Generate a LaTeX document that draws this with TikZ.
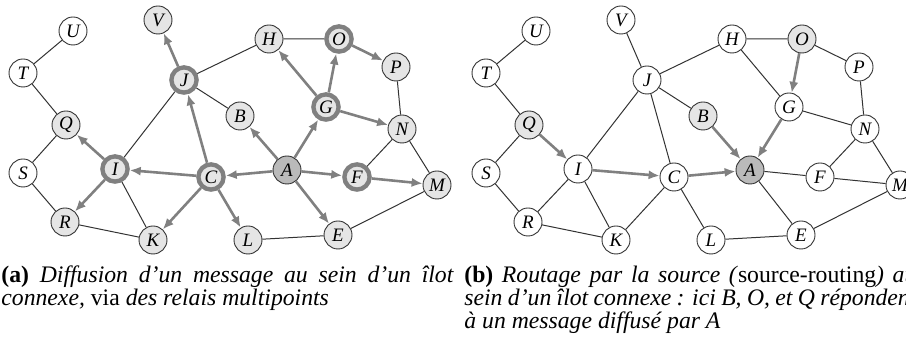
\documentclass[tikz,border=0pt]{standalone}
\usepackage{fontspec}
\setmainfont{Liberation Serif}
\usepackage{tikz}
\usetikzlibrary{arrows.meta}
\tikzstyle{station} = [circle, draw=black!80, line width=0.45pt, fill=white, minimum size=14pt, inner sep=0pt, font=\itshape\fontsize{9.5}{9.5}\selectfont]
\tikzstyle{reached} = [station, fill=black!10]
\tikzstyle{source} = [station, fill=black!27]
\tikzstyle{relay} = [reached, draw=black!50, line width=2.2pt, minimum size=12.6pt]
\tikzstyle{link} = [draw=black!80, line width=0.5pt]
\tikzstyle{flow} = [draw=black!50, line width=1.3pt, -{Latex[length=5.5pt,width=4.6pt]}]
\tikzstyle{captionbox} = [text width=226pt, align=justify, inner sep=0pt, anchor=base west, font=\fontsize{11.85}{11.3}\selectfont]

\begin{document}
\begin{tikzpicture}[x=0.5pt, y=-0.5pt]
        \useasboundingbox (0,0) rectangle (906,351);
        % (a) broadcast through the multipoint relays
        \begin{scope}[name prefix=a-]
            \node (U) [station] at (73,31) {U};
            \node (T) [station] at (23,73) {T};
            \node (Q) [reached] at (66,125) {Q};
            \node (S) [station] at (23,173) {S};
            \node (R) [reached] at (65,222) {R};
            \node (I) [relay] at (115,169) {I};
            \node (V) [reached] at (158,20) {V};
            \node (J) [relay] at (184,80) {J};
            \node (C) [relay] at (211,177) {C};
            \node (K) [reached] at (153,240) {K};
            \node (L) [reached] at (248,240) {L};
            \node (B) [reached] at (240,116) {B};
            \node (H) [reached] at (269,39) {H};
            \node (O) [relay] at (339,39) {O};
            \node (P) [reached] at (396,67) {P};
            \node (G) [relay] at (326,107) {G};
            \node (N) [reached] at (402,129) {N};
            \node (A) [source] at (287,170) {A};
            \node (F) [relay] at (357,177) {F};
            \node (M) [reached] at (437,185) {M};
            \node (E) [reached] at (338,235) {E};
            \draw [link] (U) -- (T) -- (Q) -- (S) -- (R) -- (K) -- (I) -- (J) -- (H) -- (O);
            \draw [link] (J) -- (B);
            \draw [link] (P) -- (N) -- (F);
            \draw [link] (N) -- (M) -- (E) -- (L);
            \draw [flow] (A) -- (C);
            \draw [flow] (A) -- (B);
            \draw [flow] (A) -- (G);
            \draw [flow] (A) -- (F);
            \draw [flow] (A) -- (E);
            \draw [flow] (C) -- (I);
            \draw [flow] (C) -- (J);
            \draw [flow] (C) -- (K);
            \draw [flow] (C) -- (L);
            \draw [flow] (I) -- (Q);
            \draw [flow] (I) -- (R);
            \draw [flow] (J) -- (V);
            \draw [flow] (G) -- (H);
            \draw [flow] (G) -- (O);
            \draw [flow] (G) -- (N);
            \draw [flow] (O) -- (P);
            \draw [flow] (F) -- (M);
        \end{scope}
        % (b) answers routed back to the source
        \begin{scope}[xshift=231.5pt, name prefix=b-]
            \node (U) [station] at (73,31) {U};
            \node (T) [station] at (23,73) {T};
            \node (Q) [reached] at (66,125) {Q};
            \node (S) [station] at (23,173) {S};
            \node (R) [station] at (65,222) {R};
            \node (I) [station] at (115,169) {I};
            \node (V) [station] at (158,20) {V};
            \node (J) [station] at (184,80) {J};
            \node (C) [station] at (211,177) {C};
            \node (K) [station] at (153,240) {K};
            \node (L) [station] at (248,240) {L};
            \node (B) [reached] at (240,116) {B};
            \node (H) [station] at (269,39) {H};
            \node (O) [reached] at (339,39) {O};
            \node (P) [station] at (396,67) {P};
            \node (G) [station] at (326,107) {G};
            \node (N) [station] at (402,129) {N};
            \node (A) [source] at (287,170) {A};
            \node (F) [station] at (357,177) {F};
            \node (M) [station] at (437,185) {M};
            \node (E) [station] at (338,235) {E};
            \draw [link] (U) -- (T) -- (Q) -- (S) -- (R) -- (K) -- (I) -- (J) -- (H) -- (O) -- (P) -- (N) -- (M) -- (E) -- (L) -- (C) -- (K);
            \draw [link] (R) -- (I);
            \draw [link] (V) -- (J) -- (B);
            \draw [link] (J) -- (C);
            \draw [link] (H) -- (G) -- (N) -- (F) -- (A) -- (E);
            \draw [link] (F) -- (M);
            \draw [flow] (Q) -- (I);
            \draw [flow] (I) -- (C);
            \draw [flow] (C) -- (A);
            \draw [flow] (B) -- (A);
            \draw [flow] (O) -- (G);
            \draw [flow] (G) -- (A);
        \end{scope}
        \node (cap-a) [captionbox] at (1,283) {\textbf{(a)} \textit{Diffusion d’un message au sein d’un îlot\linebreak connexe,} via \textit{des relais multipoints}};
        \node (cap-b) [captionbox] at (464,283) {\textbf{(b)} \textit{Routage par la source (}source-routing\textit{) au\linebreak sein d’un îlot connexe~: ici B, O, et Q répondent\linebreak à un message diffusé par A}};
\end{tikzpicture}
\end{document}
